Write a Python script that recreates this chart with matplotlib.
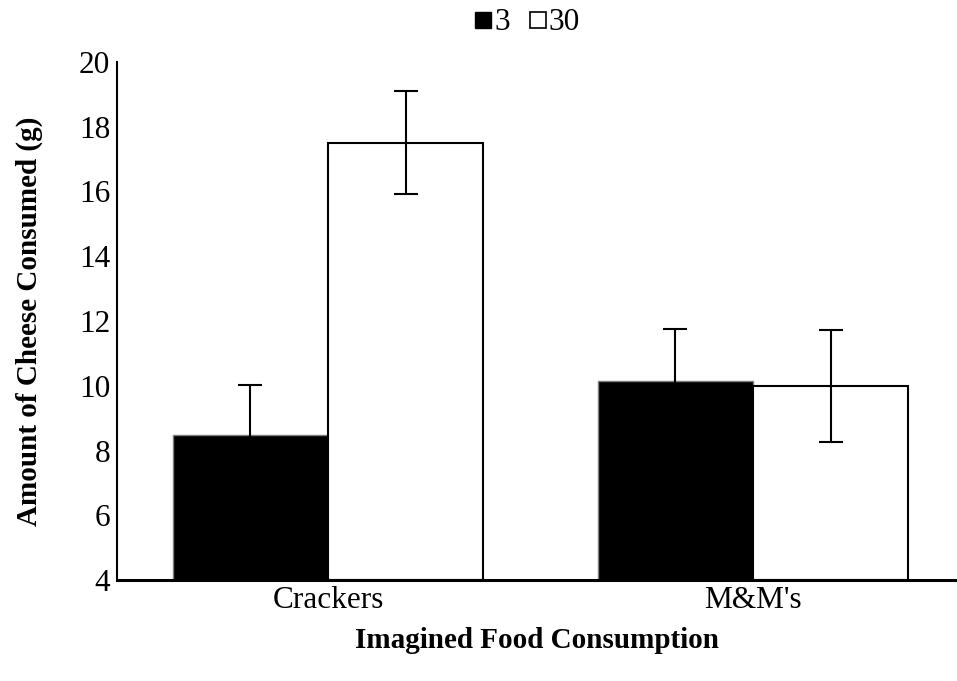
import matplotlib
matplotlib.use("Agg")
import matplotlib.pyplot as plt
import numpy as np
from matplotlib.lines import Line2D

plt.rcParams['font.family'] = ['Liberation Serif', 'DejaVu Serif']

categories = ["Crackers", "M&M's"]
series_names = ["3", "30"]
means_3 = [8.47, 10.16]
means_30 = [17.51, 10.00]
err_3 = [1.56, 1.58]
err_30 = [1.58, 1.73]

y_min, y_max = 4, 20
y_ticks = [4, 6, 8, 10, 12, 14, 16, 18, 20]

fig = plt.figure(figsize=(9.57, 6.81), dpi=100)
ax = fig.add_axes([117 / 957, 1 - 580 / 681, 1 - 117 / 957, (580 - 62) / 681])

x = np.arange(len(categories))
width = 0.365

base = y_min
ax.bar(x - width / 2, np.array(means_3) - base, width, bottom=base,
       color="black", edgecolor="#7f7f7f", linewidth=1.0, zorder=2)
ax.bar(x + width / 2, np.array(means_30) - base, width, bottom=base,
       color="white", edgecolor="black", linewidth=1.5, zorder=2)

ax.errorbar(x - width / 2, means_3, yerr=err_3, fmt="none", ecolor="black",
            elinewidth=1.5, capsize=8.5, capthick=1.5, zorder=3)
ax.errorbar(x + width / 2, means_30, yerr=err_30, fmt="none", ecolor="black",
            elinewidth=1.5, capsize=8.5, capthick=1.5, zorder=3)

ax.set_ylim(y_min, y_max)
ax.set_xlim(-211 / 425, (957 - 328) / 425)
ax.set_yticks(y_ticks)
ax.set_xticks(x)
ax.set_xticklabels(categories)
ax.tick_params(axis="both", length=0, labelsize=22.5, colors="black")
ax.tick_params(axis="y", pad=5)
ax.tick_params(axis="x", pad=4)

for side in ["top", "right"]:
    ax.spines[side].set_visible(False)
ax.spines["left"].set_linewidth(1.5)
ax.spines["bottom"].set_linewidth(2.2)

ax.set_xlabel("Imagined Food Consumption", fontsize=21, fontweight="bold", labelpad=9)
ax.set_ylabel("Amount of Cheese Consumed (g)", fontsize=21, fontweight="bold", labelpad=26)

handles = [
    Line2D([0], [0], marker="s", linestyle="none", markersize=11.5,
           markerfacecolor="black", markeredgecolor="black"),
    Line2D([0], [0], marker="s", linestyle="none", markersize=11.5,
           markerfacecolor="white", markeredgecolor="black", markeredgewidth=1.2),
]
fig.legend(handles, series_names, loc="center", bbox_to_anchor=(527 / 957, 1 - 23 / 681),
           ncol=2, frameon=False, fontsize=22.5, handlelength=0.6, handletextpad=0.05,
           columnspacing=0.6, borderpad=0, borderaxespad=0)

fig.savefig("out.png", dpi=100)
